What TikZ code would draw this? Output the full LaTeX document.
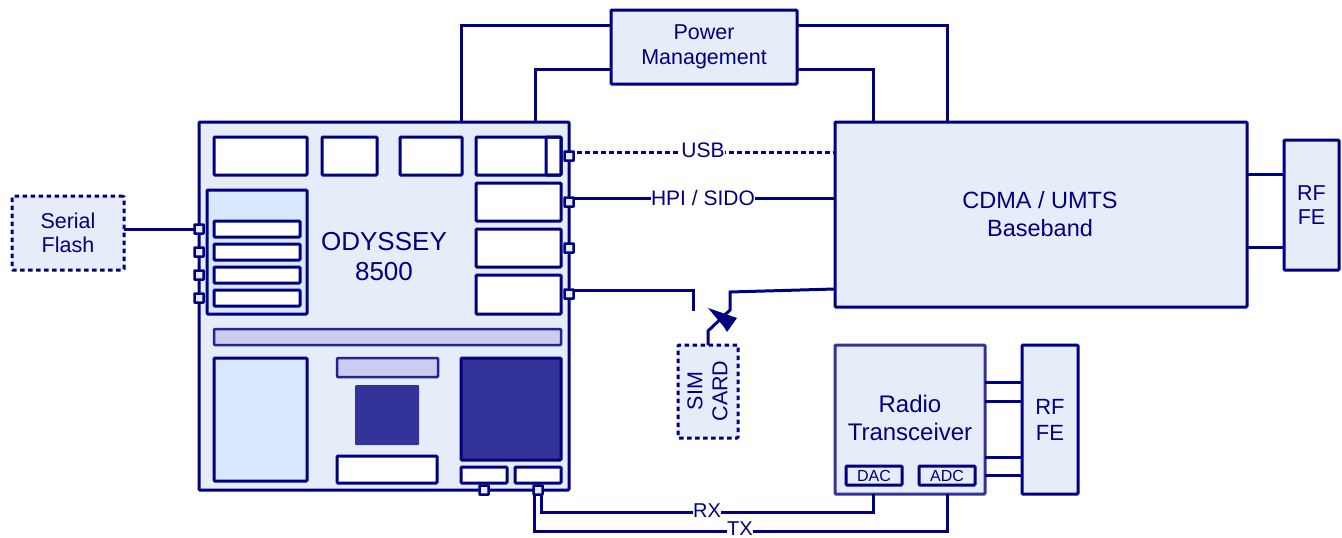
\documentclass[tikz,border=0pt]{standalone}
\usepackage{fontspec}
\setmainfont{Liberation Sans}
\definecolor{navy}{HTML}{000080}
\definecolor{pale}{HTML}{E6ECF8}
\definecolor{sky}{HTML}{D9E8FC}
\definecolor{lav}{HTML}{CCCCEE}
\definecolor{indi}{HTML}{333399}
\newcommand{\bx}[7][]{%
  \pgfmathsetmacro{\cxx}{(#3+#5)/2}\pgfmathsetmacro{\cyy}{(#4+#6)/2}%
  \pgfmathsetmacro{\wdd}{#5-#3}\pgfmathsetmacro{\htt}{#6-#4}%
  \node[#1,minimum width=\wdd pt,minimum height=\htt pt] (#2) at (\cxx,\cyy) {#7};}
\newcommand{\prt}[3]{\node[portbox] (#1) at (#2,#3) {};}
\tikzset{
  base/.style={draw=navy,line width=3pt,rounded corners=1pt,inner sep=0pt,outer sep=0pt,align=center,text=navy,font=\fontsize{21.5}{24.5}\selectfont},
  block/.style={base,fill=pale},
  dashblock/.style={base,fill=pale,dash pattern=on 4.5pt off 3.5pt},
  whitebox/.style={base,fill=white},
  panel/.style={base,fill=sky},
  lavbar/.style={base,draw=indi!70!navy,line width=2.5pt,fill=lav},
  darkbox/.style={base,fill=indi},
  radiobox/.style={base,draw=indi,fill=pale},
  portbox/.style={draw=navy,line width=2.5pt,fill=pale,minimum size=9pt,inner sep=0pt,outer sep=0pt,rounded corners=0.5pt},
  wire/.style={draw=navy,line width=3pt,line join=miter},
  wirelabel/.style={fill=white,inner sep=0pt,text=navy,font=\fontsize{21}{25}\selectfont},
}
\begin{document}
\begin{tikzpicture}[x=1pt,y=-1pt]
\useasboundingbox (0,0) rectangle (1342,538);
% main blocks
\bx[block]{pwr}{611}{10}{797}{84}{\raisebox{-1pt}{Power}\\\raisebox{-1pt}{Management}}
\bx[block]{ody}{199}{122}{569}{490}{}
\bx[block]{bb}{835}{122}{1247}{307}{}
\node[text=navy,align=center,font=\fontsize{23.5}{28}\selectfont] (bbtext) at (1040,214) {CDMA / UMTS\\Baseband};
\bx[block]{rfa}{1284}{140}{1339}{270}{RF\\FE}
\bx[dashblock]{flash}{12}{196}{124}{270}{Serial\\Flash}
\bx[dashblock]{sim}{678}{345}{738}{438}{}
\node[rotate=90,text=navy,align=center,font=\fontsize{21.5}{25}\selectfont] (simtext) at (707.5,391) {SIM\\CARD};
\bx[radiobox]{radio}{835}{345}{985}{494}{}
\node[text=navy,align=center,font=\fontsize{24}{28}\selectfont] (radiotext) at (910,418) {Radio\\Transceiver};
\bx[block,font=\fontsize{22}{26}\selectfont]{rfb}{1022}{345}{1078}{494}{RF\\FE}
\bx[whitebox,fill=pale,font=\fontsize{16}{18}\selectfont]{dac}{846}{466}{902}{485}{DAC}
\bx[whitebox,fill=pale,font=\fontsize{16}{18}\selectfont]{adc}{919}{466}{975}{485}{ADC}
% Odyssey interior
\bx[whitebox]{i1}{214}{137}{307}{175}{}
\bx[whitebox]{i2}{322}{137}{377}{175}{}
\bx[whitebox]{i3}{400}{137}{462}{175}{}
\bx[whitebox]{i4}{476}{137}{561}{175}{}
\bx[base,fill=none]{i4b}{546}{137}{561}{175}{}
\bx[whitebox]{i5}{476}{183}{561}{221}{}
\bx[whitebox]{i6}{476}{229}{561}{267}{}
\bx[whitebox]{i7}{476}{275}{561}{314}{}
\bx[panel]{mem}{207}{190}{307}{314}{}
\bx[whitebox]{s1}{214}{221}{300}{237}{}
\bx[whitebox]{s2}{214}{244}{300}{260}{}
\bx[whitebox]{s3}{214}{267}{300}{283}{}
\bx[whitebox]{s4}{214}{290}{300}{306}{}
\node[text=navy,align=center,font=\fontsize{26}{30}\selectfont] (odytext) at (384,257) {ODYSSEY\\8500};
\bx[lavbar]{bar}{214}{329}{561}{345}{}
\bx[panel]{big}{214}{358}{307}{481}{}
\bx[lavbar]{bar2}{337}{358}{438}{377}{}
\bx[base,draw=none,fill=indi]{sq}{355}{385}{419}{445}{}
\bx[darkbox]{dark}{461}{358}{561}{460}{}
\bx[whitebox]{w1}{337}{456}{437}{483}{}
\bx[whitebox]{w2}{461}{467}{507}{483}{}
\bx[whitebox]{w3}{515}{467}{561}{483}{}
% connector ends
\coordinate (oa) at (461,122); \coordinate (ob) at (535,122);
\coordinate (pa) at (611,25);  \coordinate (pb) at (611,69);
\coordinate (pc) at (797,25);  \coordinate (pd) at (797,69);
\coordinate (ba) at (947,122); \coordinate (bb1) at (873,122);
\coordinate (bu) at (835,152); \coordinate (bh) at (835,198);
\coordinate (bs) at (835,289);
\coordinate (simsw) at (693,311); \coordinate (sj) at (730,292);
\coordinate (sk) at (730,310); \coordinate (sl) at (708,331);
\coordinate (simin) at (708,345);
\coordinate (rxe) at (873,494); \coordinate (txe) at (947,494);
\coordinate (rxb) at (873,512); \coordinate (txb) at (947,531);
\coordinate (ra1) at (1247,174); \coordinate (ra2) at (1284,174);
\coordinate (rb1) at (1247,247); \coordinate (rb2) at (1284,247);
\coordinate (q1) at (985,382); \coordinate (q2) at (1022,382);
\coordinate (q3) at (985,401); \coordinate (q4) at (1022,401);
\coordinate (q5) at (985,457); \coordinate (q6) at (1022,457);
\coordinate (q7) at (985,475); \coordinate (q8) at (1022,475);
\coordinate (fl) at (124,229); \coordinate (fo) at (199,229);
\coordinate (usbo) at (569,152); \coordinate (hpio) at (569,198); \coordinate (simo) at (569,290);
\coordinate (rxo) at (541,490); \coordinate (txo) at (534,490);
% wires
\draw[wire] (oa) |- (pa);
\draw[wire] (ob) |- (pb);
\draw[wire] (pc) -| (ba);
\draw[wire] (pd) -| (bb1);
\draw[wire,dash pattern=on 4.5pt off 3.5pt] (usbo) -- (bu);
\draw[wire] (hpio) -- (bh);
\draw[wire] (simo) -| (simsw);
\draw[wire] (bs) -- (sj) -- (sk) -- (sl) -- (simin);
\draw[wire] (fl) -- (fo);
\draw[wire] (ra1) -- (ra2);
\draw[wire] (rb1) -- (rb2);
\draw[wire] (q1) -- (q2);
\draw[wire] (q3) -- (q4);
\draw[wire] (q5) -- (q6);
\draw[wire] (q7) -- (q8);
\draw[wire] (rxo) |- (rxb) -- (rxe);
\draw[wire] (txo) |- (txb) -- (txe);
% switch arrowhead
\fill[navy] (708,308) -- (737,318) -- (727,332) -- (724,327) -- cycle;
% ports
\prt{p1}{569}{156}\prt{p2}{569}{202}\prt{p3}{569}{248}\prt{p4}{569}{294}
\prt{p5}{199}{229}\prt{p6}{199}{252}\prt{p7}{199}{275}\prt{p8}{199}{298}
\prt{p9}{484}{490}\prt{p10}{538}{490}
% labels
\node[wirelabel] (usb) at (703,150) {USB};
\node[wirelabel] (hpi) at (703,198) {HPI / SIDO};
\node[wirelabel,font=\fontsize{20}{24}\selectfont] (rx) at (707,511) {RX};
\node[wirelabel,font=\fontsize{20}{24}\selectfont] (tx) at (740,529) {TX};
\end{tikzpicture}
\end{document}
